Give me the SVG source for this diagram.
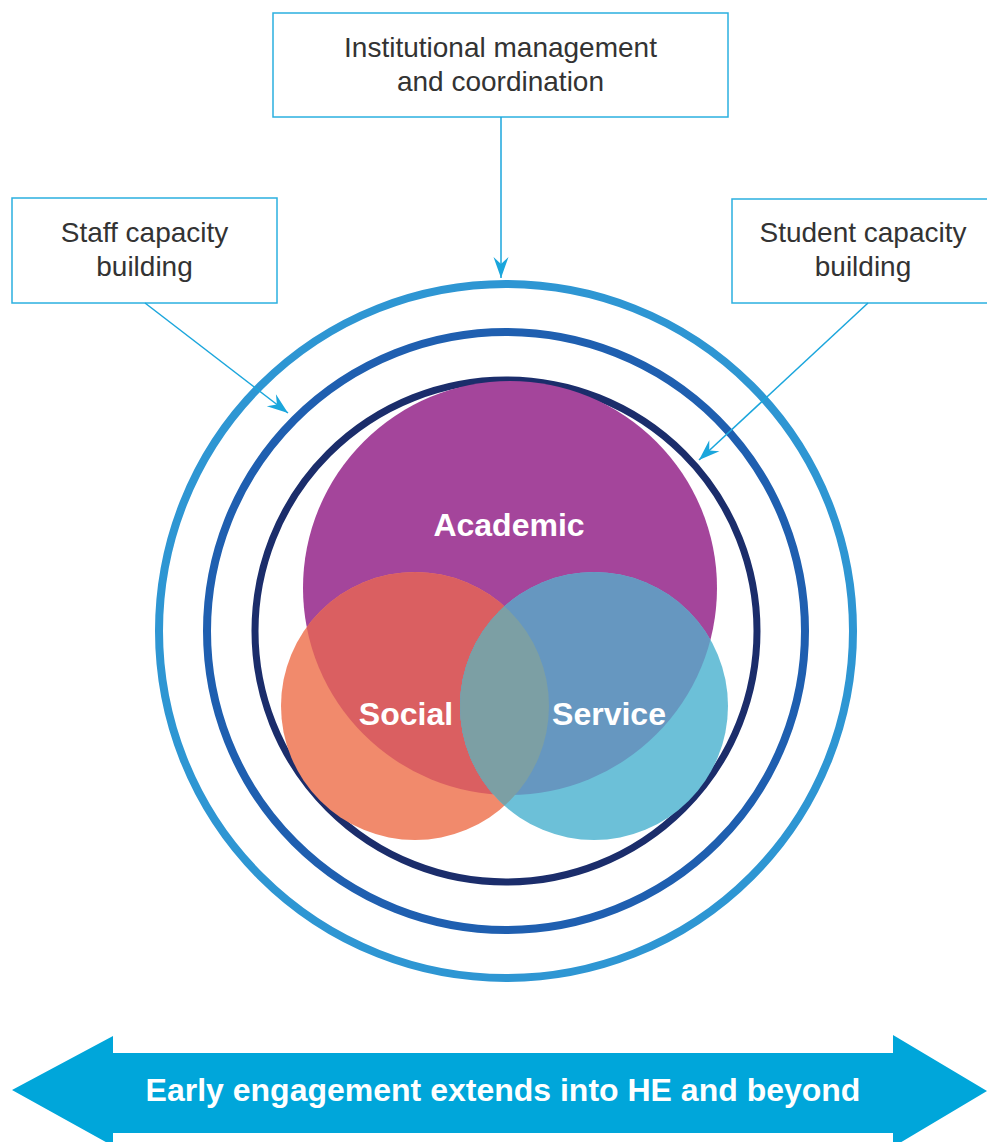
<svg xmlns="http://www.w3.org/2000/svg" width="987" height="1142" viewBox="0 0 987 1142">
  <style>
    .box { fill: #ffffff; stroke: #2bb0e0; stroke-width: 1.5; }
    .label { font-family: "Liberation Sans", Arial, sans-serif; font-size: 28px; fill: #333333; text-anchor: middle; }
    .venn { font-family: "Liberation Sans", Arial, sans-serif; font-size: 32px; font-weight: bold; fill: #ffffff; text-anchor: middle; }
    .conn { stroke: #1ba6dc; stroke-width: 1.5; fill: none; }
    .ring { fill: none; }
  </style>
  <defs>
    <marker id="arrow" viewBox="-22 -8 24 16" refX="0" refY="0" markerWidth="24" markerHeight="16" markerUnits="userSpaceOnUse" orient="auto">
      <path d="M0,0 L-21,-7.5 L-14,0 L-21,7.5 Z" fill="#1ba6dc"/>
    </marker>
    <clipPath id="clipAcad"><circle cx="510" cy="588" r="207"/></clipPath>
    <clipPath id="clipSocial"><circle cx="415" cy="706" r="134"/></clipPath>
  </defs>

  <rect width="987" height="1142" fill="#ffffff"/>

  <!-- Rings -->
  <g id="rings">
    <circle class="ring" cx="506" cy="631" r="347" stroke="#2e96d3" stroke-width="8"/>
    <circle class="ring" cx="506" cy="631" r="299" stroke="#1f5fb0" stroke-width="8"/>
    <circle class="ring" cx="506" cy="631" r="251" stroke="#1b2d6b" stroke-width="7"/>
  </g>

  <!-- Venn -->
  <g id="academic">
    <circle cx="510" cy="588" r="207" fill="#a4459b"/>
  </g>
  <g id="social">
    <circle cx="415" cy="706" r="134" fill="#f18a6c"/>
    <circle cx="415" cy="706" r="134" fill="#da5f61" clip-path="url(#clipAcad)"/>
  </g>
  <g id="service">
    <circle cx="594" cy="706" r="134" fill="#6cc0d8"/>
    <circle cx="594" cy="706" r="134" fill="#6697c0" clip-path="url(#clipAcad)"/>
    <circle cx="594" cy="706" r="134" fill="#7c9fa4" clip-path="url(#clipSocial)"/>
  </g>
  <g id="venn-labels">
    <text class="venn" x="509" y="536">Academic</text>
    <text class="venn" x="406" y="725">Social</text>
    <text class="venn" x="609" y="725">Service</text>
  </g>

  <!-- Boxes -->
  <g id="institutional">
    <rect class="box" x="273" y="13" width="455" height="104"/>
    <text class="label" x="500.5" y="57">Institutional management</text>
    <text class="label" x="500.5" y="91">and coordination</text>
  </g>
  <g id="staff">
    <rect class="box" x="12" y="198" width="265" height="105"/>
    <text class="label" x="144.5" y="242">Staff capacity</text>
    <text class="label" x="144.5" y="276">building</text>
  </g>
  <g id="student">
    <rect class="box" x="732" y="199" width="270" height="104"/>
    <text class="label" x="863" y="242">Student capacity</text>
    <text class="label" x="863" y="276">building</text>
  </g>

  <!-- Connectors -->
  <g id="connectors">
    <line class="conn" x1="501" y1="117" x2="501" y2="278" marker-end="url(#arrow)"/>
    <line class="conn" x1="145" y1="303" x2="288" y2="413" marker-end="url(#arrow)"/>
    <line class="conn" x1="868" y1="303" x2="699" y2="460" marker-end="url(#arrow)"/>
  </g>

  <!-- Bottom double arrow -->
  <g id="timeline">
    <path d="M12,1090 L113,1036 L113,1053 L893,1053 L893,1035 L987,1091 L893,1147 L893,1133 L113,1133 L113,1146 Z" fill="#00a6da"/>
    <text class="venn" x="503" y="1101">Early engagement extends into HE and beyond</text>
  </g>
</svg>
